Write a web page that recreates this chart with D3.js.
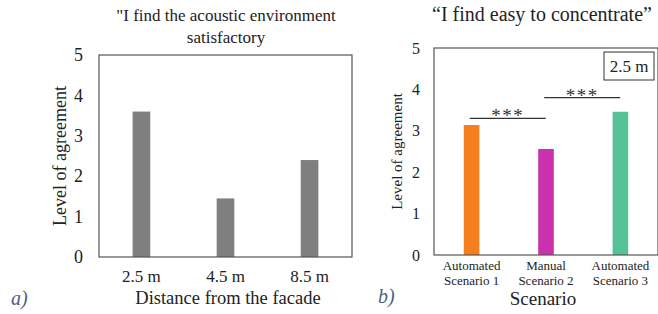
<!DOCTYPE html>
<html>
<head>
<meta charset="utf-8">
<script src="https://cdn.jsdelivr.net/npm/d3@7"></script>
<style>
  body { margin: 0; background: #fff; }
  svg { display: block; font-family: "Liberation Serif", "Times New Roman", serif; }
</style>
</head>
<body>
<svg width="658" height="314"></svg>
<script>
// panel a
const distances = ['2.5 m', '4.5 m', '8.5 m'];
const agreeA = [3.6, 1.45, 2.4];
// panel b
const scenarios = [['Automated', 'Scenario 1'], ['Manual', 'Scenario 2'], ['Automated', 'Scenario 3']];
const agreeB = [3.14, 2.56, 3.46];
const colorsB = ['#f47f1e', '#cb31ad', '#55c197'];
const yTicks = [0, 1, 2, 3, 4, 5];
// significance brackets: [from index, to index, label]
const signif = [[0, 1, '***'], [1, 2, '***']];

const svg = d3.select('svg');

function panel(box, cats, values, colors) {
    const x = d3.scaleBand().domain(d3.range(cats.length)).range([box.left, box.right]).paddingInner(0.79).paddingOuter(0.4);
    const y = d3.scaleLinear().domain([0, 5]).range([box.bottom, box.top]);
    const g = svg.append('g');

    g.selectAll('rect.bar').data(values).enter().append('rect')
        .attr('class', 'bar')
        .attr('x', (d, i) => x(i))
        .attr('y', d => y(d))
        .attr('width', x.bandwidth())
        .attr('height', d => y(0) - y(d))
        .attr('fill', (d, i) => colors[i]);

    // frame
    g.append('rect')
        .attr('x', box.left).attr('y', box.top)
        .attr('width', box.right - box.left).attr('height', box.bottom - box.top)
        .attr('fill', 'none').attr('stroke', '#555').attr('stroke-width', 1.2);

    const yAxis = g.append('g')
        .attr('transform', `translate(${box.left},0)`)
        .call(d3.axisLeft(y).tickValues(yTicks).tickFormat(d3.format('d')).tickSize(0).tickPadding(box.tickPad));
    yAxis.select('.domain').remove();
    yAxis.selectAll('text').attr('font-family', 'Liberation Serif').attr('font-size', box.tickSize).attr('fill', '#222');

    g.append('text')
        .attr('transform', `translate(${box.ylabX},${(box.top + box.bottom) / 2}) rotate(-90)`)
        .attr('text-anchor', 'middle')
        .attr('font-size', box.ylabSize).attr('fill', '#222')
        .text('Level of agreement');
    return { x, y, g };
}

// ---- panel a
const A = panel({ left: 99, right: 352, top: 55, bottom: 257, tickPad: 16, tickSize: 18, ylabX: 66, ylabSize: 18 },
    distances, agreeA, agreeA.map(() => '#7f7f7f'));
A.g.selectAll('text.cat').data(distances).enter().append('text')
    .attr('x', (d, i) => A.x(i) + A.x.bandwidth() / 2)
    .attr('y', 282)
    .attr('text-anchor', 'middle').attr('font-size', 17).attr('fill', '#222')
    .text(d => d);
A.g.append('text').attr('x', 228).attr('y', 304).attr('text-anchor', 'middle')
    .attr('font-size', 18.5).attr('fill', '#222').text('Distance from the facade');
A.g.append('text').attr('x', 226).attr('y', 21).attr('text-anchor', 'middle')
    .attr('font-size', 17).attr('fill', '#222').text('"I find the acoustic environment');
A.g.append('text').attr('x', 226).attr('y', 43).attr('text-anchor', 'middle')
    .attr('font-size', 17).attr('fill', '#222').text('satisfactory');
A.g.append('text').attr('x', 11).attr('y', 305).attr('font-size', 20)
    .attr('font-style', 'italic').attr('fill', '#4b5f86').text('a)');

// ---- panel b
const B = panel({ left: 434, right: 658, top: 48, bottom: 255, tickPad: 14, tickSize: 16, ylabX: 402, ylabSize: 15 },
    scenarios, agreeB, colorsB);
scenarios.forEach((lines, i) => {
    const t = B.g.append('text')
        .attr('x', B.x(i) + B.x.bandwidth() / 2).attr('y', 270)
        .attr('text-anchor', 'middle').attr('font-size', 13).attr('fill', '#222');
    lines.forEach((l, j) => t.append('tspan').attr('x', B.x(i) + B.x.bandwidth() / 2).attr('dy', j ? 15 : 0).text(l));
});
B.g.append('text').attr('x', 543).attr('y', 305).attr('text-anchor', 'middle')
    .attr('font-size', 19).attr('fill', '#222').text('Scenario');
B.g.append('text').attr('x', 542).attr('y', 21).attr('text-anchor', 'middle')
    .attr('font-size', 20).attr('fill', '#222').text('\u201CI find easy to concentrate\u201D');
B.g.append('text').attr('x', 378).attr('y', 303).attr('font-size', 20)
    .attr('font-style', 'italic').attr('fill', '#4b5f86').text('b)');

// legend box
B.g.append('rect').attr('x', 604).attr('y', 52).attr('width', 50).attr('height', 28)
    .attr('fill', '#fff').attr('stroke', '#333').attr('stroke-width', 1);
B.g.append('text').attr('x', 629).attr('y', 72).attr('text-anchor', 'middle')
    .attr('font-size', 17).attr('fill', '#222').text('2.5 m');

// significance brackets
const bh = [3.3, 3.8];
signif.forEach(([a, b, lab], k) => {
    const x1 = B.x(a), x2 = B.x(b) + B.x.bandwidth();
    const yy = B.y(bh[k]);
    B.g.append('line').attr('x1', x1 + 6).attr('x2', x2 - 8).attr('y1', yy).attr('y2', yy)
        .attr('stroke', '#333').attr('stroke-width', 1.2);
    B.g.append('text').attr('x', (x1 + x2) / 2 - 1).attr('y', yy + 4)
        .attr('text-anchor', 'middle').attr('font-size', 19).attr('letter-spacing', 1.5).attr('fill', '#333').text(lab);
});
</script>
</body>
</html>
